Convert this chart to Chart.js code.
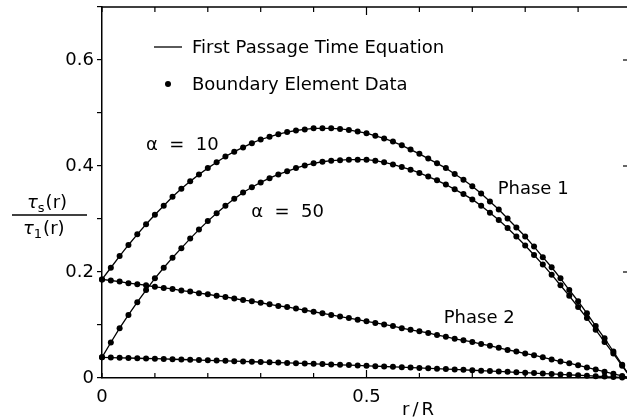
<!DOCTYPE html>
<html>
<head>
<meta charset="utf-8">
<script src="https://cdn.jsdelivr.net/npm/chart.js@4/dist/chart.umd.min.js"></script>
<style>
  html, body { margin: 0; padding: 0; overflow: hidden; background: #fff; }
  #wrap { width: 634px; height: 419px; }
</style>
</head>
<body>
<div id="wrap"><canvas id="chart"></canvas></div>
<script>
// r/R positions of the boundary element nodes
const rValues = [0, 0.0167, 0.0333, 0.05, 0.0667, 0.0833, 0.1, 0.1167, 0.1333, 0.15,
  0.1667, 0.1833, 0.2, 0.2167, 0.2333, 0.25, 0.2667, 0.2833, 0.3, 0.3167,
  0.3333, 0.35, 0.3667, 0.3833, 0.4, 0.4167, 0.4333, 0.45, 0.4667, 0.4833,
  0.5, 0.5167, 0.5333, 0.55, 0.5667, 0.5833, 0.6, 0.6167, 0.6333, 0.65,
  0.6667, 0.6833, 0.7, 0.7167, 0.7333, 0.75, 0.7667, 0.7833, 0.8, 0.8167,
  0.8333, 0.85, 0.8667, 0.8833, 0.9, 0.9167, 0.9333, 0.95, 0.9667, 0.9833, 1];

// Phase 1, alpha = 10
const phase1Alpha10 = [0.186, 0.208, 0.230, 0.251, 0.271, 0.290, 0.308, 0.325, 0.342, 0.357,
  0.371, 0.384, 0.396, 0.407, 0.418, 0.427, 0.435, 0.443, 0.450, 0.455,
  0.460, 0.464, 0.467, 0.469, 0.471, 0.471, 0.471, 0.470, 0.468, 0.465,
  0.462, 0.457, 0.452, 0.446, 0.439, 0.431, 0.423, 0.414, 0.405, 0.396,
  0.385, 0.374, 0.362, 0.348, 0.333, 0.318, 0.301, 0.284, 0.267, 0.248,
  0.228, 0.209, 0.188, 0.166, 0.145, 0.122, 0.098, 0.075, 0.050, 0.025, 0];

// Phase 1, alpha = 50
const phase1Alpha50 = [0.039, 0.067, 0.094, 0.119, 0.143, 0.166, 0.188, 0.208, 0.227, 0.245,
  0.263, 0.280, 0.296, 0.311, 0.325, 0.338, 0.350, 0.360, 0.369, 0.377,
  0.384, 0.390, 0.396, 0.401, 0.405, 0.408, 0.410, 0.411, 0.412, 0.412,
  0.412, 0.410, 0.407, 0.403, 0.398, 0.393, 0.387, 0.380, 0.373, 0.365,
  0.356, 0.347, 0.337, 0.325, 0.312, 0.298, 0.283, 0.267, 0.250, 0.232,
  0.214, 0.195, 0.175, 0.155, 0.134, 0.113, 0.091, 0.068, 0.046, 0.023, 0];

// Phase 2, alpha = 10
const phase2Alpha10 = [0.186, 0.184, 0.182, 0.179, 0.177, 0.175, 0.172, 0.170, 0.168, 0.165,
  0.163, 0.160, 0.158, 0.155, 0.153, 0.150, 0.147, 0.145, 0.142, 0.139,
  0.136, 0.134, 0.131, 0.128, 0.125, 0.122, 0.119, 0.116, 0.113, 0.110,
  0.107, 0.104, 0.101, 0.098, 0.094, 0.091, 0.088, 0.085, 0.081, 0.078,
  0.074, 0.071, 0.068, 0.064, 0.061, 0.057, 0.053, 0.050, 0.046, 0.043,
  0.039, 0.035, 0.031, 0.028, 0.024, 0.020, 0.016, 0.012, 0.008, 0.004, 0];

// Phase 2, alpha = 50
const phase2Alpha50 = [0.0390, 0.0386, 0.0381, 0.0377, 0.0373, 0.0368, 0.0364, 0.0359, 0.0354, 0.0349,
  0.0344, 0.0339, 0.0334, 0.0329, 0.0324, 0.0318, 0.0313, 0.0307, 0.0302, 0.0296,
  0.0291, 0.0285, 0.0279, 0.0274, 0.0268, 0.0262, 0.0255, 0.0249, 0.0243, 0.0237,
  0.0230, 0.0224, 0.0217, 0.0210, 0.0204, 0.0197, 0.0190, 0.0183, 0.0176, 0.0168,
  0.0161, 0.0154, 0.0146, 0.0139, 0.0131, 0.0124, 0.0116, 0.0108, 0.0100, 0.0092,
  0.0084, 0.0076, 0.0068, 0.0060, 0.0052, 0.0044, 0.0035, 0.0027, 0.0018, 0.0009, 0];

const xLabelTicks = [0, 0.5, 1];
const yLabelTicks = [0, 0.2, 0.4, 0.6];

const FONT = '"DejaVu Sans", sans-serif';

function toPoints(ys) {
  return ys.map((v, i) => ({ x: rValues[i], y: v }));
}

function curve(ys) {
  return {
    data: toPoints(ys),
    showLine: true,
    borderColor: "#000",
    backgroundColor: "#000",
    borderWidth: 1.3,
    pointRadius: 3,
    pointBorderWidth: 0,
    pointHoverRadius: 3,
    tension: 0,
    clip: false
  };
}

function isLabelTick(list, v) {
  return list.some(t => Math.abs(t - v) < 1e-6);
}

function noPad(s) {
  s.paddingLeft = 0; s.paddingRight = 0; s.paddingTop = 0; s.paddingBottom = 0;
}

// frame, inward ticks, legend, labels
const decorations = {
  id: "decorations",
  afterDraw(chart) {
    const { ctx, chartArea: a, scales: { x, y } } = chart;
    ctx.save();
    ctx.strokeStyle = "#000";
    ctx.fillStyle = "#000";
    ctx.lineWidth = 1.5;

    ctx.beginPath();
    ctx.moveTo(a.left, a.top);
    ctx.lineTo(a.right, a.top);
    ctx.lineTo(a.right, a.bottom);
    ctx.stroke();

    ctx.lineWidth = 1.2;
    x.ticks.forEach(t => {
      const px = x.getPixelForValue(t.value);
      const len = Math.abs(t.value - 0.5) < 1e-6 ? 8 : 5;
      ctx.beginPath();
      ctx.moveTo(px, a.top); ctx.lineTo(px, a.top + len);
      ctx.moveTo(px, a.bottom); ctx.lineTo(px, a.bottom - len);
      ctx.stroke();
    });
    y.ticks.forEach(t => {
      const py = y.getPixelForValue(t.value);
      const len = isLabelTick(yLabelTicks, t.value) ? 8 : 4;
      ctx.beginPath();
      ctx.moveTo(a.right, py); ctx.lineTo(a.right - len, py);
      ctx.stroke();
    });

    // legend
    ctx.lineWidth = 1.3;
    ctx.beginPath();
    ctx.moveTo(154, 47); ctx.lineTo(182, 47);
    ctx.stroke();
    ctx.beginPath();
    ctx.arc(168, 84, 3, 0, Math.PI * 2);
    ctx.fill();
    ctx.font = "18px " + FONT;
    ctx.textBaseline = "alphabetic";
    ctx.textAlign = "left";
    ctx.fillText("First Passage Time Equation", 192, 53);
    ctx.fillText("Boundary Element Data", 192, 90);

    // curve labels
    const label = (txt, xv, yv) => ctx.fillText(txt, x.getPixelForValue(xv), y.getPixelForValue(yv));
    label("α  =  10", 0.083, 0.43);
    label("α  =  50", 0.282, 0.303);
    label("Phase 1", 0.748, 0.348);
    label("Phase 2", 0.646, 0.103);

    // axis titles
    ctx.letterSpacing = "3px";
    ctx.fillText("r/R", 402, 415);
    ctx.letterSpacing = "0px";

    const frac = (left, base, sub) => {
      ctx.font = "italic 18px " + FONT;
      ctx.fillText("τ", left, base);
      let w = ctx.measureText("τ").width;
      ctx.font = "13px " + FONT;
      ctx.fillText(sub, left + w, base + 4);
      w += ctx.measureText(sub).width + 1;
      ctx.font = "18px " + FONT;
      ctx.fillText("(r)", left + w, base);
    };
    frac(27, 208, "s");
    ctx.lineWidth = 1.5;
    ctx.beginPath();
    ctx.moveTo(12, 215); ctx.lineTo(87, 215);
    ctx.stroke();
    frac(23, 234, "1");

    ctx.restore();
  }
};

new Chart(document.getElementById("chart"), {
  type: "scatter",
  data: {
    datasets: [
      curve(phase1Alpha10),
      curve(phase1Alpha50),
      curve(phase2Alpha10),
      curve(phase2Alpha50)
    ]
  },
  options: {
    responsive: true,
    maintainAspectRatio: false,
    animation: false,
    events: [],
    layout: { padding: { top: 7, right: 0, left: 0, bottom: 0 } },
    plugins: { legend: { display: false }, tooltip: { enabled: false } },
    scales: {
      x: {
        type: "linear",
        min: 0,
        max: 1,
        afterFit: s => { s.height = 41; noPad(s); },
        border: { display: true, color: "#000", width: 1.5 },
        grid: { display: true, drawOnChartArea: false, drawTicks: false },
        ticks: {
          stepSize: 0.1,
          autoSkip: false,
          maxRotation: 0,
          padding: 9,
          color: "#000",
          font: { family: FONT, size: 18 },
          callback: v => isLabelTick(xLabelTicks, v) ? (v === 0 ? "0" : String(Math.round(v * 10) / 10)) : ""
        }
      },
      y: {
        type: "linear",
        min: 0,
        max: 0.7,
        afterFit: s => { s.width = 102; noPad(s); },
        border: { display: true, color: "#000", width: 1.5 },
        grid: { display: true, drawOnChartArea: false, drawTicks: true, tickLength: 5, color: "#000", lineWidth: 1.2 },
        ticks: {
          stepSize: 0.1,
          autoSkip: false,
          padding: 3,
          color: "#000",
          font: { family: FONT, size: 18 },
          callback: v => isLabelTick(yLabelTicks, v) ? (v === 0 ? "0" : v.toFixed(1)) : ""
        }
      }
    }
  },
  plugins: [decorations]
});
</script>
</body>
</html>
